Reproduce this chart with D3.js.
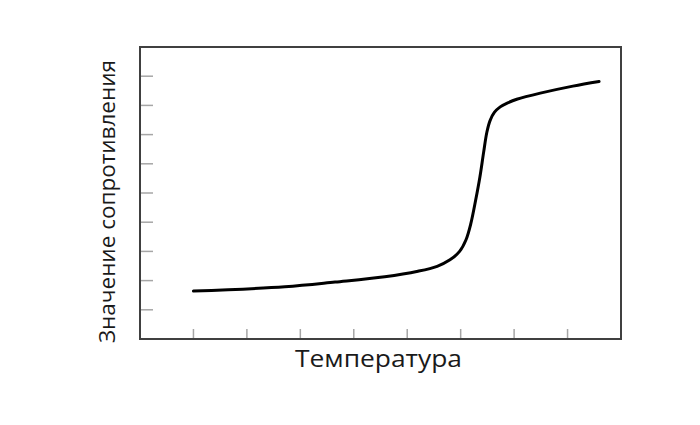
<!DOCTYPE html>
<html><head><meta charset="utf-8">
<script src="https://cdn.jsdelivr.net/npm/d3@7"></script>
<style>body{margin:0;background:#fff}svg{display:block}</style>
</head><body>
<script>
const xTicks = [1,2,3,4,5,6,7,8];
const yTicks = [1,2,3,4,5,6,7,8,9];
const curveX = [1.0,2.71,3.65,4.58,5.2,5.56,5.80,5.98,6.10,6.19,6.28,6.36,6.43,6.49,6.55,6.63,6.74,6.88,7.05,7.49,8.10,8.59];
const curveY = [1.64,1.79,1.95,2.13,2.32,2.49,2.71,3.00,3.40,3.95,4.75,5.55,6.40,7.08,7.48,7.76,7.95,8.09,8.21,8.42,8.66,8.82];
const xLabel = "Температура";
const yLabel = "Значение сопротивления";

const W=700,H=425, L=140,R=621,T=47,B=339;
const svg=d3.select("body").append("svg").attr("width",W).attr("height",H);
const x=d3.scaleLinear().domain([0,9]).range([L,R]);
const y=d3.scaleLinear().domain([0,10]).range([B,T]);

svg.append("g").selectAll("line").data(xTicks).join("line")
  .attr("x1",d=>x(d)).attr("x2",d=>x(d)).attr("y1",B).attr("y2",B-10)
  .attr("stroke","#a6a6a6").attr("stroke-width",1.5);
svg.append("g").selectAll("line").data(yTicks).join("line")
  .attr("y1",d=>y(d)).attr("y2",d=>y(d)).attr("x1",L).attr("x2",L+13)
  .attr("stroke","#a6a6a6").attr("stroke-width",1.5);

svg.append("rect").attr("x",L).attr("y",T).attr("width",R-L).attr("height",B-T)
  .attr("fill","none").attr("stroke","#404040").attr("stroke-width",2);

const pts=curveX.map((v,i)=>[v,curveY[i]]);
svg.append("path").datum(pts)
  .attr("d",d3.line().x(d=>x(d[0])).y(d=>y(d[1])).curve(d3.curveCatmullRom.alpha(0.5)))
  .attr("fill","none").attr("stroke","#000").attr("stroke-width",3).attr("stroke-linecap","round");

svg.append("text").attr("x",378.5).attr("y",367).attr("text-anchor","middle")
  .attr("font-family","Open Sans").attr("font-size",23).attr("fill","#1a1a1a")
  .attr("textLength",167).attr("lengthAdjust","spacingAndGlyphs").text(xLabel);
svg.append("text").attr("transform",`translate(115,201.5) rotate(-90)`).attr("text-anchor","middle")
  .attr("font-family","Open Sans").attr("font-size",22).attr("fill","#1a1a1a")
  .attr("textLength",283).attr("lengthAdjust","spacingAndGlyphs").text(yLabel);
</script>
</body></html>
